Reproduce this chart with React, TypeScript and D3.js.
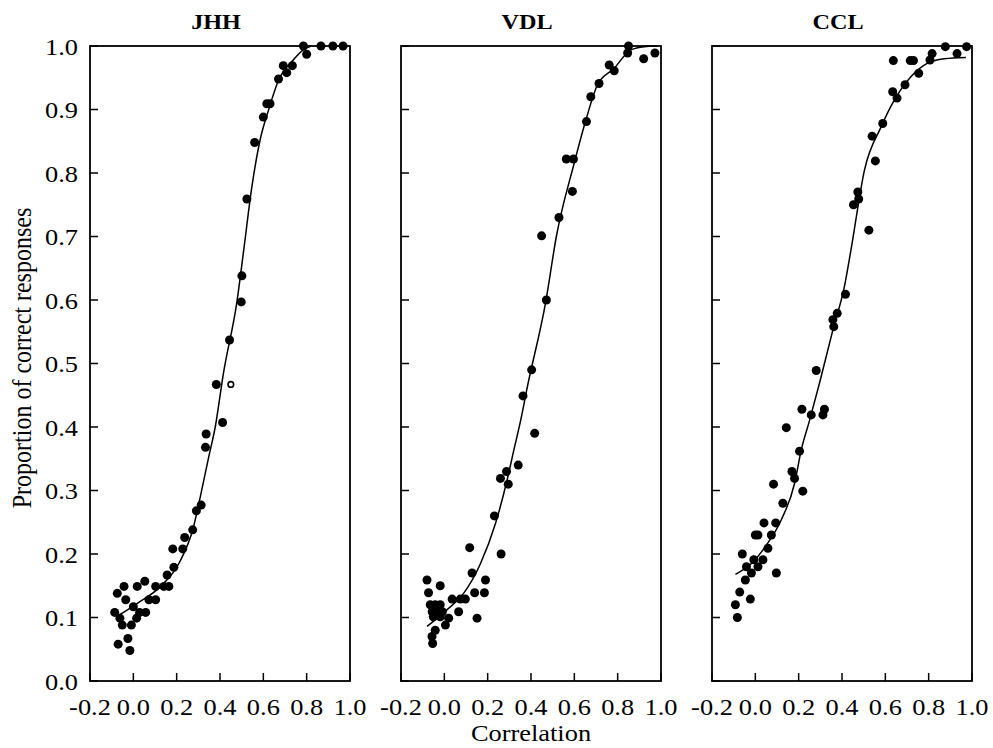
import React from "react";
import * as d3 from "d3";

// ---- data ----
const panelTitles = ["JHH", "VDL", "CCL"];
const xTicks = [-0.2, 0.0, 0.2, 0.4, 0.6, 0.8, 1.0];
const yTicks = [0.0, 0.1, 0.2, 0.3, 0.4, 0.5, 0.6, 0.7, 0.8, 0.9, 1.0];

const jhhPoints: [number, number][] = [
  [0.785, 1.0], [0.866, 1.0], [0.921, 1.0], [0.968, 1.0], [0.8, 0.987],
  [0.692, 0.969], [0.734, 0.969], [0.708, 0.958], [0.67, 0.948],
  [0.616, 0.909], [0.631, 0.909], [0.6, 0.888], [0.56, 0.848], [0.524, 0.759],
  [0.501, 0.638], [0.498, 0.597], [0.444, 0.537], [0.383, 0.467], [0.412, 0.407],
  [0.336, 0.389], [0.333, 0.368], [0.313, 0.277], [0.291, 0.268], [0.274, 0.238],
  [0.237, 0.226], [0.228, 0.208], [0.182, 0.208], [0.187, 0.179], [0.156, 0.167],
  [0.164, 0.149], [0.141, 0.149], [0.103, 0.149], [0.103, 0.128], [0.072, 0.128],
  [0.057, 0.108], [0.029, 0.108], [0.053, 0.157], [0.018, 0.149], [0.0, 0.117],
  [0.015, 0.099], [-0.009, 0.088], [-0.051, 0.088], [-0.062, 0.099], [-0.035, 0.128],
  [-0.043, 0.149], [-0.074, 0.138], [-0.086, 0.108], [-0.07, 0.058], [-0.025, 0.067],
  [-0.016, 0.048],
];
const jhhOpenPoints: [number, number][] = [[0.45, 0.467]];
const jhhCurve: [number, number][] = [
  [-0.065, 0.104], [0.017, 0.122], [0.126, 0.149], [0.21, 0.185], [0.278, 0.243],
  [0.309, 0.29], [0.348, 0.353], [0.378, 0.4], [0.416, 0.485], [0.478, 0.597],
  [0.51, 0.68], [0.547, 0.778], [0.585, 0.852], [0.624, 0.899], [0.67, 0.946],
  [0.738, 0.978], [0.784, 0.994], [0.82, 1.0],
];

const vdlPoints: [number, number][] = [
  [0.85, 1.0], [0.846, 0.989], [0.92, 0.98], [0.972, 0.989], [0.761, 0.97],
  [0.784, 0.961], [0.714, 0.941], [0.676, 0.92], [0.656, 0.881], [0.563, 0.822],
  [0.596, 0.822], [0.591, 0.771], [0.529, 0.73], [0.449, 0.701], [0.471, 0.6],
  [0.403, 0.49], [0.363, 0.449], [0.417, 0.39], [0.341, 0.34], [0.287, 0.33],
  [0.259, 0.319], [0.295, 0.31], [0.231, 0.26], [0.262, 0.2], [0.117, 0.21],
  [0.128, 0.17], [0.19, 0.159], [0.185, 0.139], [0.14, 0.139], [0.151, 0.099],
  [0.097, 0.129], [0.074, 0.129], [0.036, 0.129], [0.066, 0.109], [0.02, 0.099],
  [0.005, 0.088], [-0.019, 0.15], [-0.08, 0.159], [-0.073, 0.139],
  [-0.065, 0.12], [-0.042, 0.12], [-0.019, 0.12], [-0.056, 0.109], [-0.032, 0.109],
  [-0.009, 0.109], [-0.051, 0.101], [-0.019, 0.101], [-0.042, 0.08], [-0.057, 0.07],
  [-0.054, 0.059],
];
const vdlCurve: [number, number][] = [
  [-0.08, 0.086], [0.012, 0.112], [0.089, 0.138], [0.167, 0.185], [0.236, 0.248],
  [0.29, 0.317], [0.321, 0.364], [0.352, 0.41], [0.383, 0.463], [0.468, 0.597],
  [0.517, 0.7], [0.599, 0.815], [0.653, 0.883], [0.707, 0.939], [0.784, 0.965],
  [0.861, 0.994], [0.923, 0.999], [0.98, 1.0],
];

const cclPoints: [number, number][] = [
  [0.877, 0.999], [0.975, 0.999], [0.931, 0.988], [0.816, 0.988], [0.806, 0.978],
  [0.637, 0.977], [0.715, 0.977], [0.73, 0.977], [0.754, 0.957], [0.691, 0.939],
  [0.634, 0.928], [0.654, 0.918], [0.588, 0.878], [0.539, 0.858], [0.554, 0.819],
  [0.473, 0.77], [0.477, 0.759], [0.453, 0.75], [0.524, 0.71], [0.416, 0.609],
  [0.378, 0.579], [0.358, 0.569], [0.362, 0.558], [0.281, 0.489], [0.215, 0.428],
  [0.258, 0.419], [0.319, 0.428], [0.312, 0.419], [0.143, 0.399], [0.204, 0.362],
  [0.169, 0.33], [0.181, 0.319], [0.084, 0.31], [0.219, 0.299], [0.127, 0.28],
  [0.094, 0.249], [0.04, 0.249], [0.0, 0.23], [0.012, 0.23], [0.074, 0.23],
  [0.058, 0.209], [-0.06, 0.2], [0.035, 0.191], [-0.007, 0.191], [-0.041, 0.18],
  [0.012, 0.18], [-0.018, 0.17], [-0.046, 0.159], [0.097, 0.17], [-0.072, 0.14],
  [-0.023, 0.129], [-0.092, 0.12], [-0.083, 0.1],
];
const cclCurve: [number, number][] = [
  [-0.092, 0.168], [-0.018, 0.185], [0.051, 0.214], [0.12, 0.254], [0.181, 0.311],
  [0.212, 0.364], [0.25, 0.41], [0.296, 0.469], [0.358, 0.553], [0.411, 0.621],
  [0.442, 0.68], [0.504, 0.805], [0.581, 0.873], [0.642, 0.915], [0.719, 0.952],
  [0.795, 0.973], [0.872, 0.98], [0.972, 0.982],
];

const panels = [
  { title: panelTitles[0], points: jhhPoints, open: jhhOpenPoints, curve: jhhCurve },
  { title: panelTitles[1], points: vdlPoints, open: [] as [number, number][], curve: vdlCurve },
  { title: panelTitles[2], points: cclPoints, open: [] as [number, number][], curve: cclCurve },
];

// ---- layout ----
const W = 993;
const H = 748;
const panelLefts = [90, 401, 712];
const panelW = 260;
const top = 46;
const bottom = 681;
const FONT = "'Liberation Serif', 'Times New Roman', serif";
const SX = 1.1;

export default function App() {
  const x = d3.scaleLinear().domain([-0.2, 1.0]).range([0, panelW]);
  const y = d3.scaleLinear().domain([0, 1]).range([bottom, top]);
  const line = d3
    .line<[number, number]>()
    .x((d) => x(d[0]))
    .y((d) => y(d[1]))
    .curve(d3.curveMonotoneX);
  const fmt = (v: number) => d3.format(".1f")(v).replace("\u2212", "-");

  return (
    <svg
      width={W}
      height={H}
      style={{ position: "absolute", left: 0, top: 0, background: "#fff" }}
      fontFamily={FONT}
    >
      <rect x={0} y={0} width={W} height={H} fill="#fff" />
      {panels.map((p, i) => (
        <g key={p.title} transform={`translate(${panelLefts[i]},0)`}>
          <text
            transform={`translate(${panelW / 2 - 4},29) scale(${SX},1)`}
            textAnchor="middle"
            fontSize={22}
            fontWeight="bold"
          >
            {p.title}
          </text>
          {yTicks.map((t) => (
            <line key={"yt" + t} x1={0} x2={8} y1={y(t)} y2={y(t)} stroke="#000" strokeWidth={1.5} />
          ))}
          {xTicks.map((t) => (
            <line key={"xt" + t} x1={x(t)} x2={x(t)} y1={bottom} y2={bottom - 8} stroke="#000" strokeWidth={1.5} />
          ))}
          {xTicks.map((t) => (
            <text
              key={"xl" + t}
              transform={`translate(${x(t)},715) scale(${SX},1)`}
              textAnchor="middle"
              fontSize={24}
            >
              {fmt(t)}
            </text>
          ))}
          {i === 0 &&
            yTicks.map((t) => (
              <text
                key={"yl" + t}
                transform={`translate(${78 - panelLefts[0]},${y(t) + 8.5}) scale(${SX},1)`}
                textAnchor="end"
                fontSize={24}
              >
                {fmt(t)}
              </text>
            ))}
          <rect x={0} y={top} width={panelW} height={bottom - top} fill="none" stroke="#000" strokeWidth={1.8} />
          <path d={line(p.curve) || ""} fill="none" stroke="#000" strokeWidth={1.5} />
          {p.points.map((d, j) => (
            <circle key={"p" + j} cx={x(d[0])} cy={y(d[1])} r={4.5} fill="#000" />
          ))}
          {p.open.map((d, j) => (
            <circle key={"o" + j} cx={x(d[0])} cy={y(d[1])} r={2.8} fill="#fff" stroke="#000" strokeWidth={1.6} />
          ))}
        </g>
      ))}
      <text
        transform={`translate(31,358) scale(${SX},1) rotate(-90)`}
        textAnchor="middle"
        fontSize={24}
      >
        Proportion of correct responses
      </text>
      <text transform={`translate(531,741) scale(${SX},1)`} textAnchor="middle" fontSize={24}>
        Correlation
      </text>
    </svg>
  );
}
